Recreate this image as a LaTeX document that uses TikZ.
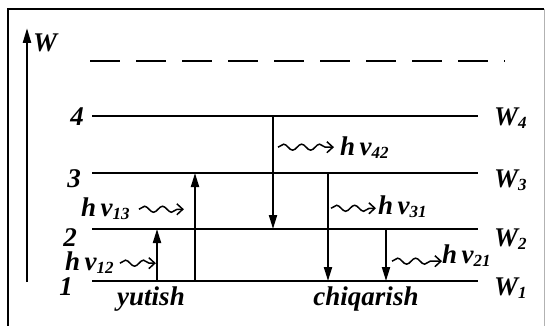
\documentclass[tikz,border=0pt]{standalone}
\usepackage{fontspec}
\setmainfont{Liberation Serif}
\usetikzlibrary{arrows.meta,decorations.pathmorphing}
\tikzset{
  lvl/.style={line width=2.4pt},
  trans/.style={line width=2pt,-{Triangle[length=14pt,width=8pt]}},
  photon/.style={line width=1.5pt,-{Straight Barb[length=6pt,width=11pt]},
    decorate,decoration={snake,amplitude=3pt,segment length=18pt,post length=6pt}},
  lbl/.style={font=\fontsize{27}{29}\selectfont\bfseries\itshape,inner sep=0pt}
}
\newcommand{\lowidx}[1]{\raisebox{-0.25ex}{\fontsize{17}{17}\selectfont #1}}
\newcommand{\hnu}[1]{h\,ν\lowidx{#1}}

\begin{document}
\begin{tikzpicture}[x=1pt,y=-1pt]
\useasboundingbox (0,0) rectangle (546,326);
% frame
\draw[line width=2.4pt] (8,330) -- (8,9) -- (544,9);
\draw[line width=1pt,gray!60] (544,9) -- (544,330);

% energy axis
\coordinate (ax0) at (27,282);
\coordinate (ax1) at (27,28);
\draw[line width=2.4pt,-{Triangle[length=15pt,width=8pt]}] (ax0) -- (ax1);
\node[lbl,anchor=base west] (W) at (33,52) {W};

% ionisation limit
\draw[lvl,dash pattern=on 30pt off 16pt] (90,61) -- (505,61);

% levels
\foreach \n/\y/\lx/\ly in {1/281/66/295,2/229/70/246,3/173/74/187,4/116/77/125}{
  \draw[lvl] (92,\y) coordinate (L\n) -- (478,\y) coordinate (R\n);
  \node[lbl,anchor=base] (n\n) at (\lx,\ly) {\n};
  \node[lbl,anchor=base west] (w\n) at (494,\ly) {W\lowidx{\n}};
}

% absorption
\coordinate (c12) at (157,0);
\coordinate (c13) at (195,0);
\draw[trans] (L1 -| c12) -- (L2 -| c12);
\draw[trans] (L1 -| c13) -- (L3 -| c13);
\node[lbl,anchor=base west] (h12) at (65,270) {\hnu{12}};
\node[lbl,anchor=base west] (h13) at (81,216) {\hnu{13}};
\draw[photon] ([xshift=6pt,yshift=-1pt]h12.east) -- ++(36,0);
\draw[photon] ([xshift=9pt,yshift=-1pt]h13.east) -- ++(45,0);
\node[lbl,anchor=base] (abs) at (151,305) {yutish};

% emission
\coordinate (c42) at (273,0);
\coordinate (c31) at (328,0);
\coordinate (c21) at (386,0);
\draw[trans] (L4 -| c42) -- (L2 -| c42);
\draw[trans] (L3 -| c31) -- (L1 -| c31);
\draw[trans] (L2 -| c21) -- (L1 -| c21);
\node[lbl,anchor=base west] (h42) at (340,155) {\hnu{42}};
\node[lbl,anchor=base west] (h31) at (378,214) {\hnu{31}};
\node[lbl,anchor=base west] (h21) at (442,263) {\hnu{21}};
\draw[photon] ([xshift=-62pt]h42.west) -- ([xshift=-6pt]h42.west);
\draw[photon] ([xshift=-47pt,yshift=-2pt]h31.west) -- ([xshift=-2pt,yshift=-2pt]h31.west);
\draw[photon] ([xshift=-50pt,yshift=-6pt]h21.west) -- ([xshift=0pt,yshift=-6pt]h21.west);
\node[lbl,anchor=base] (emi) at (366,305) {chiqarish};
\end{tikzpicture}
\end{document}
